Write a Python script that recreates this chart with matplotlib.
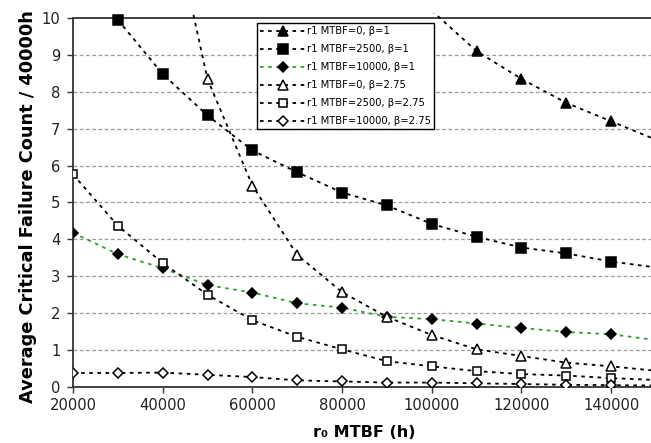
import matplotlib.pyplot as plt
import numpy as np

plt.rcParams['font.family'] = ['DejaVu Sans']

# r0 MTBF (h)
x_tri1 = [100000, 110000, 120000, 130000, 140000, 150000]
y_tri1 = [10.2, 9.1, 8.35, 7.7, 7.2, 6.7]

x_sq1 = [30000, 40000, 50000, 60000, 70000, 80000, 90000, 100000, 110000, 120000, 130000, 140000, 150000]
y_sq1 = [9.95, 8.48, 7.36, 6.41, 5.82, 5.27, 4.92, 4.42, 4.07, 3.78, 3.62, 3.40, 3.24]

x_all = [20000, 30000, 40000, 50000, 60000, 70000, 80000, 90000, 100000, 110000, 120000, 130000, 140000, 150000]
y_dia1 = [4.18, 3.60, 3.22, 2.76, 2.56, 2.27, 2.15, 1.90, 1.84, 1.72, 1.60, 1.49, 1.43, 1.27]

x_tri2 = [40000, 50000, 60000, 70000, 80000, 90000, 100000, 110000, 120000, 130000, 140000, 150000]
y_tri2 = [13.9, 8.34, 5.46, 3.58, 2.57, 1.90, 1.41, 1.02, 0.84, 0.66, 0.56, 0.44]

y_sq2 = [5.76, 4.37, 3.36, 2.50, 1.81, 1.36, 1.02, 0.70, 0.56, 0.43, 0.35, 0.31, 0.24, 0.19]
y_dia2 = [0.38, 0.38, 0.39, 0.33, 0.27, 0.18, 0.15, 0.12, 0.12, 0.10, 0.08, 0.06, 0.05, 0.04]

labels = ['r1 MTBF=0, \u03b2=1', 'r1 MTBF=2500, \u03b2=1', 'r1 MTBF=10000, \u03b2=1',
          'r1 MTBF=0, \u03b2=2.75', 'r1 MTBF=2500, \u03b2=2.75', 'r1 MTBF=10000, \u03b2=2.75']

series = [
    (x_tri1, y_tri1, '^', 'black', 'black', 6.5),
    (x_sq1, y_sq1, 's', 'black', 'black', 6.8),
    (x_all, y_dia1, 'D', 'black', '#2f9e2f', 5.5),
    (x_tri2, y_tri2, '^', 'white', 'black', 6.5),
    (x_all, y_sq2, 's', 'white', 'black', 6),
    (x_all, y_dia2, 'D', 'white', 'black', 5),
]

fig = plt.figure(figsize=(6.51, 4.43), dpi=100)
W, H = 651, 443
x0, x1 = 73, 656
ytop, ybot = 13.2, 387
ax = fig.add_axes([x0 / W, 1 - ybot / H, (x1 - x0) / W, (ybot - ytop) / H])
ax.set_xlim(20000, 150000)
ax.set_ylim(0, 10.13)

for y in range(1, 10):
    ax.axhline(y, color='#9a9a9a', lw=0.9, dashes=(3, 2), zorder=0)
ax.axhline(10, color='#333333', lw=1.3, zorder=1)

for (xs, ys, m, fc, lc, ms), lab in zip(series, labels):
    # markers only for points inside the visible area
    show = [i for i in range(len(xs)) if ys[i] <= 10.05 and xs[i] < 145000]
    ax.plot(xs, ys, color=lc, lw=1.3, dashes=(2, 2.5), marker=m, markersize=ms,
            markerfacecolor=fc, markeredgecolor='black', markeredgewidth=1.1,
            markevery=show, label=lab, zorder=3)

for s in ['top', 'right']:
    ax.spines[s].set_visible(False)
ax.spines['left'].set_bounds(0, 10)
for s in ['left', 'bottom']:
    ax.spines[s].set_color('#333333')
    ax.spines[s].set_linewidth(1.3)

ax.set_yticks(range(0, 11))
ax.set_xticks(range(20000, 150000, 20000))
ax.tick_params(axis='both', direction='out', length=4, width=1, colors='#333333',
               labelsize=10.6, labelcolor='#222222')
ax.tick_params(axis='x', pad=4)
ax.tick_params(axis='y', pad=5)

ax.set_xlabel('r\u2080 MTBF (h)', fontsize=11.5, fontweight='bold')
ax.set_ylabel('Average Critical Failure Count / 40000h', fontsize=12.8, fontweight='bold')
ax.xaxis.set_label_coords(0.5, -0.101)
ax.yaxis.set_label_coords(-0.0617, 0.4815)

leg = ax.legend(loc='upper left', bbox_to_anchor=((257 - x0) / (x1 - x0), (ybot - 23) / (ybot - ytop)),
                borderaxespad=0, fontsize=7.2, handlelength=4.6, handletextpad=0.1,
                labelspacing=0.8, borderpad=0.3, fancybox=False, framealpha=1,
                edgecolor='black')
leg.get_frame().set_linewidth(1.0)

fig.savefig('out.png', dpi=100)
